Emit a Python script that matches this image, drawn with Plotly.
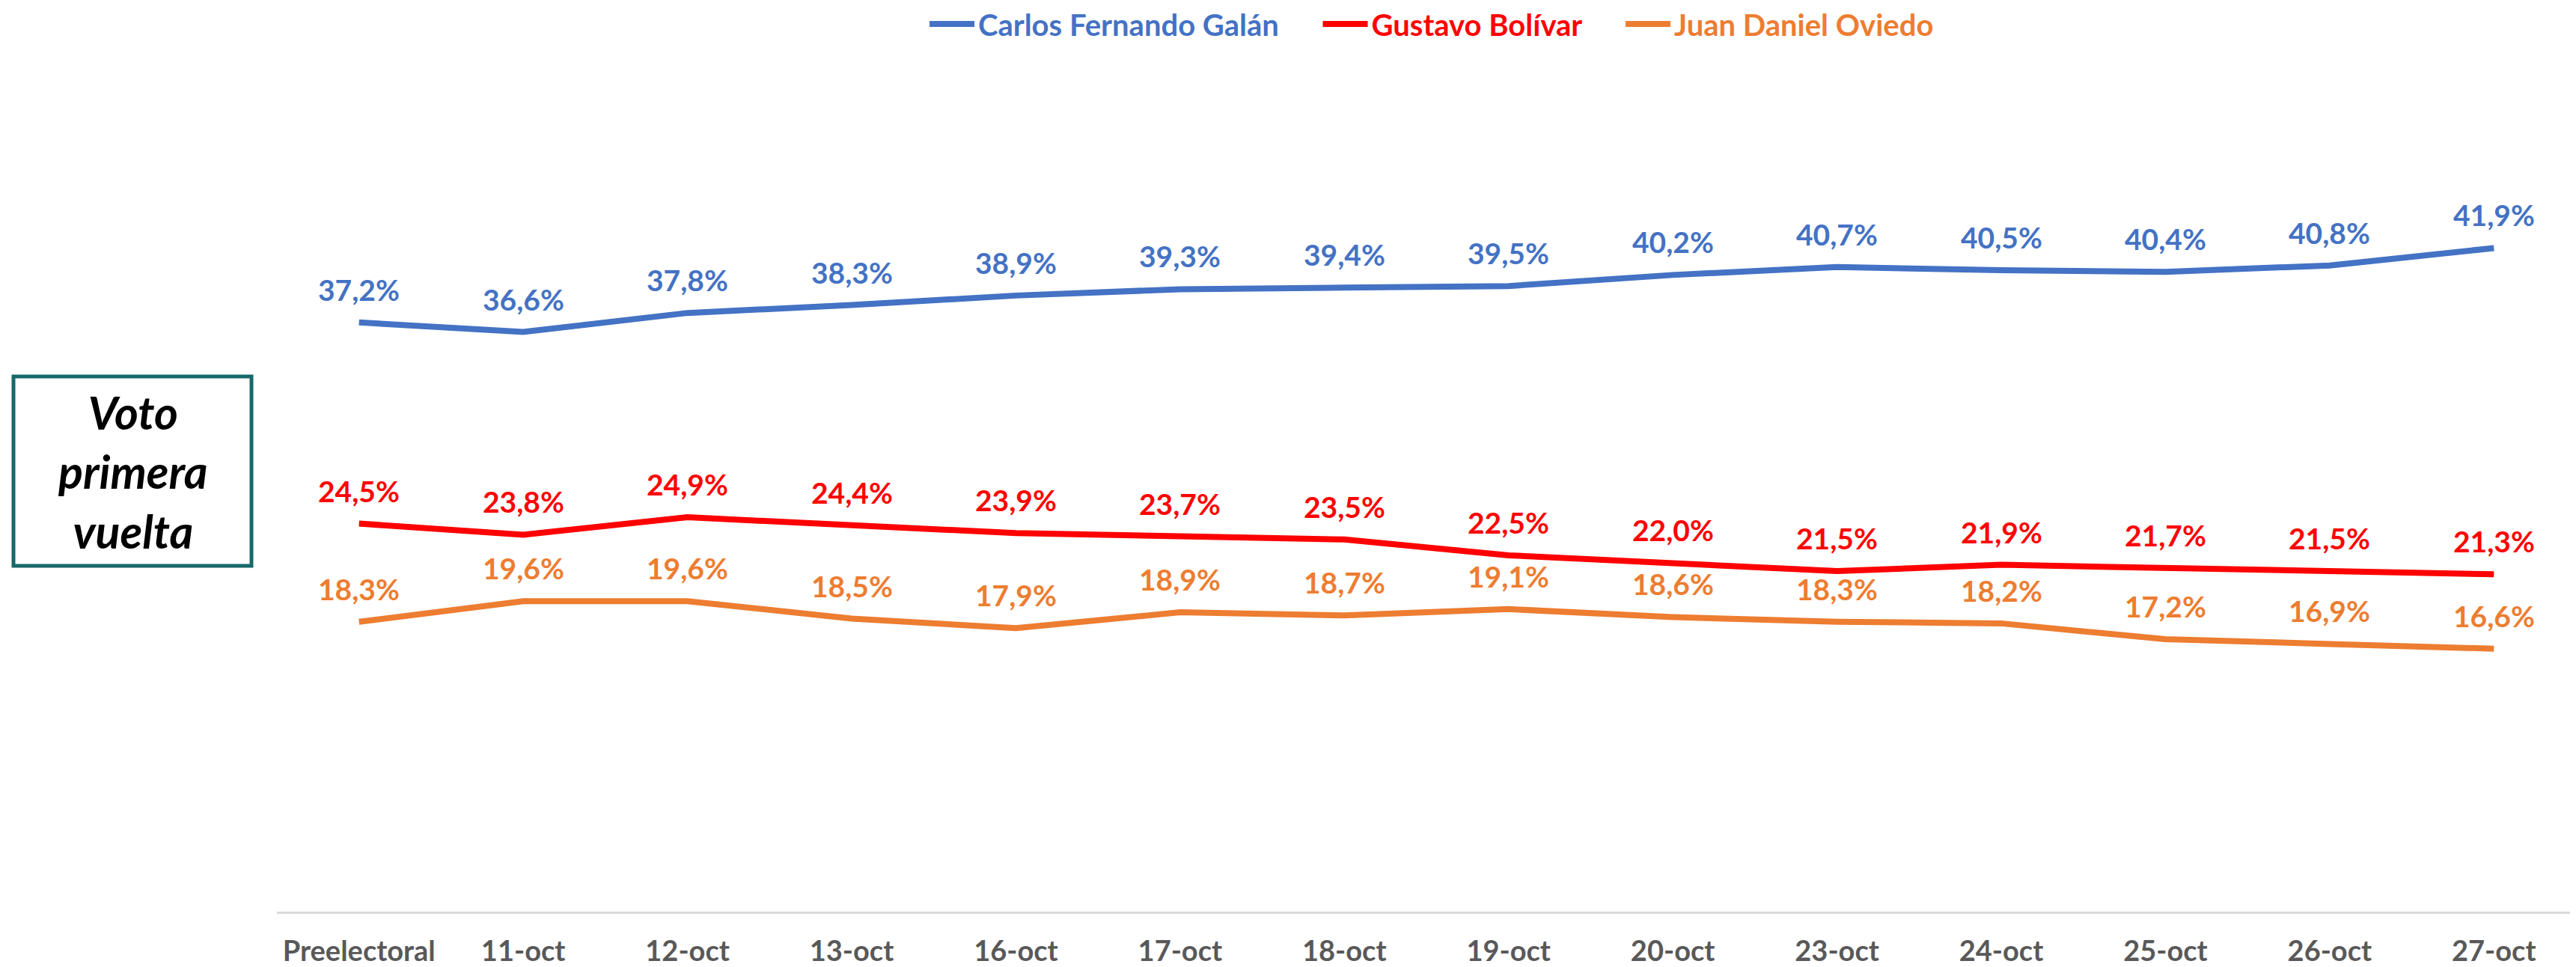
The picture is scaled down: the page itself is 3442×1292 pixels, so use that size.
import plotly.graph_objects as go

categories = ["Preelectoral", "11-oct", "12-oct", "13-oct", "16-oct", "17-oct", "18-oct",
              "19-oct", "20-oct", "23-oct", "24-oct", "25-oct", "26-oct", "27-oct"]
galan = [37.2, 36.6, 37.8, 38.3, 38.9, 39.3, 39.4, 39.5, 40.2, 40.7, 40.5, 40.4, 40.8, 41.9]
bolivar = [24.5, 23.8, 24.9, 24.4, 23.9, 23.7, 23.5, 22.5, 22.0, 21.5, 21.9, 21.7, 21.5, 21.3]
oviedo = [18.3, 19.6, 19.6, 18.5, 17.9, 18.9, 18.7, 19.1, 18.6, 18.3, 18.2, 17.2, 16.9, 16.6]
series_names = ["Carlos Fernando Galán", "Gustavo Bolívar", "Juan Daniel Oviedo"]
series_values = [galan, bolivar, oviedo]
series_colors = ["#4472C4", "#FF0000", "#ED7D31"]
box_text = "Voto<br>primera<br>vuelta"

# The page body has an 8px margin: figure is drawn at page offset (8, 8)
OFF = 8
PAGE_W, PAGE_H = 3442, 1292
W, H = PAGE_W - OFF, PAGE_H - OFF
PLOT_LEFT, PLOT_TOP, PLOT_BOTTOM = 370, 160, 1218  # page pixels
ML, MR = PLOT_LEFT - OFF, 0
MT = PLOT_TOP - OFF
MB = H - (PLOT_BOTTOM - OFF)
PW, PH = W - ML - MR, H - MT - MB
FONT = "Lato"
LEGEND_PAD = [5, 5, 0]  # trailing spaces after legend names


def px_x(px):  # page px -> paper x
    return (px - OFF - ML) / PW


def px_y(py):  # page px -> paper y
    return (H - MB - (py - OFF)) / PH


def fmt(v):
    return f"{v:.1f}".replace(".", ",") + "%"


fig = go.Figure()
for name, vals, col, pad in zip(series_names, series_values, series_colors, LEGEND_PAD):
    fig.add_trace(go.Scatter(
        x=categories, y=vals, mode="lines",
        name=f"<span style='color:{col}'>{name}</span>" + "&nbsp;" * pad,
        line=dict(color=col, width=8),
        hoverinfo="skip",
    ))
    for c, v in zip(categories, vals):
        fig.add_annotation(
            x=c, y=v, text=f"<b>{fmt(v)}</b>", showarrow=False,
            yshift=44, font=dict(family=FONT, size=39, color=col),
        )

# Side box
fig.add_shape(type="rect", xref="paper", yref="paper",
              x0=px_x(18), x1=px_x(336), y0=px_y(756), y1=px_y(503),
              line=dict(color="#17696A", width=5), fillcolor="white", layer="above")
fig.add_annotation(xref="paper", yref="paper", x=px_x(177), y=px_y(630),
                   text=f"<b><i>{box_text}</i></b>", showarrow=False,
                   xanchor="center", yanchor="middle", align="center",
                   font=dict(family=FONT, size=61, color="black"))

fig.update_layout(
    width=W, height=H,
    margin=dict(l=ML, r=MR, t=MT, b=MB, pad=0, autoexpand=False),
    paper_bgcolor="white", plot_bgcolor="white",
    font=dict(family=FONT),
    showlegend=True,
    legend=dict(orientation="h", x=px_x(1913), xanchor="center", y=px_y(32), yanchor="middle",
                font=dict(family=FONT, size=40, weight="bold"),
                itemwidth=60, itemclick=False, itemdoubleclick=False,
                bgcolor="rgba(0,0,0,0)"),
    xaxis=dict(type="category", range=[-0.5, 13.5], showgrid=False, zeroline=False,
               showline=True, linecolor="#D9D9D9", linewidth=3, automargin=False,
               ticks="", ticklabelstandoff=17,
               tickfont=dict(family=FONT, size=38, color="#595959", weight="bold"),
               fixedrange=True),
    yaxis=dict(range=[0, 50], visible=False, showgrid=False, zeroline=False,
               automargin=False, fixedrange=True),
)

fig.write_html("out.html")
